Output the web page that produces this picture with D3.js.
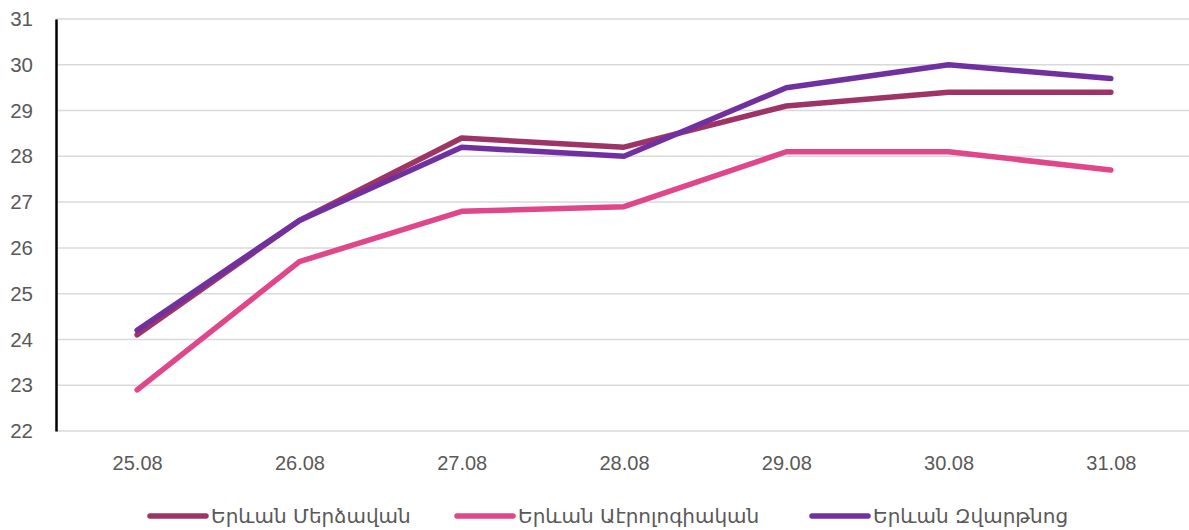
<!DOCTYPE html>
<html>
<head>
<meta charset="utf-8">
<script src="https://cdn.jsdelivr.net/npm/d3@7"></script>
<style>
  body { margin: 0; background: #fff; }
  svg text { font-family: "Liberation Sans", Arial, sans-serif; fill: #595959; }
  .legend text { font-family: "DejaVu Sans", "Noto Sans", sans-serif; }
</style>
</head>
<body>
<div class="chart-container"></div>
<script>
//! DATA
const dates = ['25.08', '26.08', '27.08', '28.08', '29.08', '30.08', '31.08']
const yTicks = [22, 23, 24, 25, 26, 27, 28, 29, 30, 31]
const seriesNames = ['Երևան Մերձավան', 'Երևան Աէրոլոգիական', 'Երևան Զվարթնոց']
const merdzavan = [24.1, 26.6, 28.4, 28.2, 29.1, 29.4, 29.4]
const aerologiakan = [22.9, 25.7, 26.8, 26.9, 28.1, 28.1, 27.7]
const zvartnots = [24.2, 26.6, 28.2, 28.0, 29.5, 30.0, 29.7]
const colors = ['#9e3466', '#e0468a', '#7030a0']

//! CONSTS
const width = 1189
const height = 530
const padLeft = 56, padRight = 1192, padTop = 19, padBottom = 431

const svg = d3.select('.chart-container')
  .append('svg')
  .attr('width', width)
  .attr('height', height)

//! SCALES
const xScale = d3.scalePoint()
  .domain(dates)
  .range([padLeft, padRight])
  .padding(0.5)

const yScale = d3.scaleLinear()
  .domain([22, 31])
  .range([padBottom, padTop])

// grid
svg.append('g')
  .selectAll('line')
  .data(yTicks)
  .enter()
  .append('line')
  .attr('x1', padLeft)
  .attr('x2', width)
  .attr('y1', d => yScale(d))
  .attr('y2', d => yScale(d))
  .attr('stroke', '#d9d9d9')
  .attr('stroke-width', 1.5)

//! AXES
const yAxis = d3.axisLeft(yScale).tickValues(yTicks).tickSize(0).tickPadding(23)
svg.append('g')
  .attr('transform', `translate(${padLeft},0)`)
  .call(yAxis)
  .call(g => g.select('.domain').attr('stroke', '#000').attr('stroke-width', 2.5))
  .call(g => g.selectAll('text').attr('font-size', 20.5).attr('fill', '#595959'))

const xAxis = d3.axisBottom(xScale).tickSize(0).tickPadding(25)
svg.append('g')
  .attr('transform', `translate(0,${padBottom})`)
  .call(xAxis)
  .call(g => g.select('.domain').remove())
  .call(g => g.selectAll('text').attr('font-size', 20).attr('fill', '#595959'))

//! LINES
const series = [merdzavan, aerologiakan, zvartnots]
const line = d3.line()
  .x((d, i) => xScale(dates[i]))
  .y(d => yScale(d))

svg.append('g')
  .selectAll('path')
  .data(series)
  .enter()
  .append('path')
  .attr('d', line)
  .attr('fill', 'none')
  .attr('stroke', (d, i) => colors[i])
  .attr('stroke-width', 5.5)
  .attr('stroke-linecap', 'round')
  .attr('stroke-linejoin', 'round')

//! LEGEND
const legendX = [148, 455, 810]
const legend = svg.append('g').attr('class', 'legend')
const item = legend.selectAll('g')
  .data(seriesNames)
  .enter()
  .append('g')
  .attr('transform', (d, i) => `translate(${legendX[i]},516)`)
item.append('line')
  .attr('x1', 2).attr('x2', 58)
  .attr('stroke', (d, i) => colors[i])
  .attr('stroke-width', 5.5)
  .attr('stroke-linecap', 'round')
item.append('text')
  .attr('x', 63)
  .attr('dy', '0.35em')
  .attr('font-size', 20)
  .text(d => d)
</script>
</body>
</html>
